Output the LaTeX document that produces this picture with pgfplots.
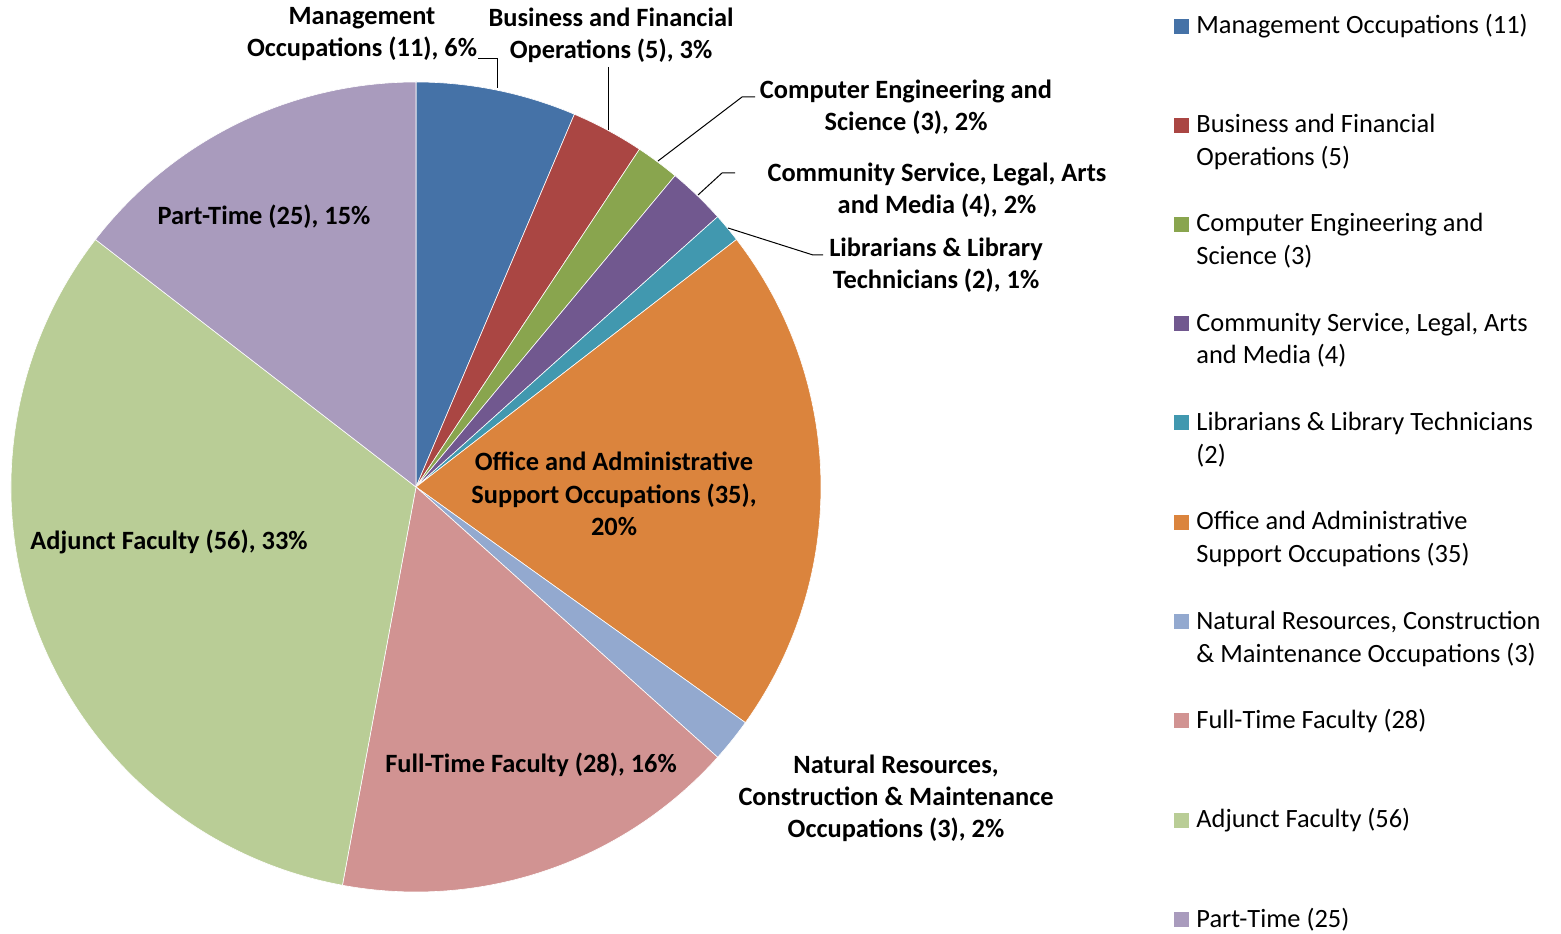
\documentclass[border=0pt]{standalone}
\usepackage{pgfplots}
\pgfplotsset{compat=1.18}
\usepackage{fontspec}
\setmainfont{Carlito}

\definecolor{pie1}{HTML}{4572A7}
\definecolor{pie2}{HTML}{AA4643}
\definecolor{pie3}{HTML}{89A54E}
\definecolor{pie4}{HTML}{71588F}
\definecolor{pie5}{HTML}{4198AF}
\definecolor{pie6}{HTML}{DB843D}
\definecolor{pie7}{HTML}{93A9CF}
\definecolor{pie8}{HTML}{D19392}
\definecolor{pie9}{HTML}{B9CD96}
\definecolor{pie10}{HTML}{A99BBD}

% slice values (counts), clockwise from 12 o'clock
\def\pievals{11,5,3,4,2,35,3,28,56,25}

\def\pietotal{0}
\foreach \v in \pievals {\pgfmathsetmacro\pietmp{\pietotal+\v}\xdef\pietotal{\pietmp}}
\newcount\pieidx
\def\piecum{0}
\foreach \v in \pievals {%
  \global\advance\pieidx by 1
  \pgfmathsetmacro\pieA{90-(\piecum/\pietotal)*360}%
  \pgfmathsetmacro\pietmp{\piecum+\v}\xdef\piecum{\pietmp}%
  \pgfmathsetmacro\pieB{90-(\piecum/\pietotal)*360}%
  \expandafter\xdef\csname pieS\the\pieidx\endcsname{\pieA}%
  \expandafter\xdef\csname pieE\the\pieidx\endcsname{\pieB}%
}

\begin{document}
\begin{tikzpicture}[
  lab/.style={font=\bfseries\fontsize{13.2}{16}\selectfont, anchor=base, inner sep=0pt},
  leg/.style={font=\fontsize{13.2}{16}\selectfont, anchor=base west, inner sep=0pt},
]
\begin{axis}[
  x=0.5pt, y=0.5pt,
  xmin=0, xmax=1561, ymin=0, ymax=933,
  hide axis, clip=false,
]
\coordinate (bl) at (axis cs:0,0);
\coordinate (tr) at (axis cs:1561,933);
\pgfplotsinvokeforeach{1,...,10}{
  \fill[pie#1, draw=white, line width=0.3pt] (axis cs:416,446) -- ++({\csname pieS#1\endcsname}:202.5pt)
    arc[start angle={\csname pieS#1\endcsname}, end angle={\csname pieE#1\endcsname}, radius=202.5pt] -- cycle;
}
% leader lines
\draw[black, line width=0.5pt] (axis cs:478,874) -- (axis cs:497,874) -- (axis cs:497,845);
\draw[black, line width=0.5pt] (axis cs:608,866) -- (axis cs:608,803);
\draw[black, line width=0.5pt] (axis cs:755,836) -- (axis cs:742,836) -- (axis cs:658,772);
\draw[black, line width=0.5pt] (axis cs:735,760) -- (axis cs:722,760) -- (axis cs:698,738);
\draw[black, line width=0.5pt] (axis cs:823,678) -- (axis cs:813,678) -- (axis cs:728,705);
% data labels
\node[lab] at (axis cs:362,908) {Management};
\node[lab] at (axis cs:362,876) {Occupations (11), 6\%};
\node[lab] at (axis cs:611,906) {Business and Financial};
\node[lab] at (axis cs:611,874) {Operations (5), 3\%};
\node[lab] at (axis cs:906,834) {Computer Engineering and};
\node[lab] at (axis cs:906,802) {Science (3), 2\%};
\node[lab] at (axis cs:937,751) {Community Service, Legal, Arts};
\node[lab] at (axis cs:937,719) {and Media (4), 2\%};
\node[lab] at (axis cs:936,676) {Librarians \& Library};
\node[lab] at (axis cs:936,644) {Technicians (2), 1\%};
\node[lab] at (axis cs:614,463) {Office and Administrative};
\node[lab] at (axis cs:614,430) {Support Occupations (35),};
\node[lab] at (axis cs:614,398) {20\%};
\node[lab] at (axis cs:896,160) {Natural Resources,};
\node[lab] at (axis cs:896,128) {Construction \& Maintenance};
\node[lab] at (axis cs:896,96) {Occupations (3), 2\%};
\node[lab] at (axis cs:531,161) {Full-Time Faculty (28), 16\%};
\node[lab] at (axis cs:169,384) {Adjunct Faculty (56), 33\%};
\node[lab] at (axis cs:264,708) {Part-Time (25), 15\%};
% legend
\fill[pie1] (axis cs:1174,899) rectangle (axis cs:1189,914);
\node[leg] at (axis cs:1196,899) {Management Occupations (11)};
\fill[pie2] (axis cs:1174,800) rectangle (axis cs:1189,815);
\node[leg] at (axis cs:1196,800) {Business and Financial};
\node[leg] at (axis cs:1196,767) {Operations (5)};
\fill[pie3] (axis cs:1174,701) rectangle (axis cs:1189,716);
\node[leg] at (axis cs:1196,701) {Computer Engineering and};
\node[leg] at (axis cs:1196,668) {Science (3)};
\fill[pie4] (axis cs:1174,602) rectangle (axis cs:1189,617);
\node[leg] at (axis cs:1196,602) {Community Service, Legal, Arts};
\node[leg] at (axis cs:1196,569) {and Media (4)};
\fill[pie5] (axis cs:1174,502.67) rectangle (axis cs:1189,517.67);
\node[leg] at (axis cs:1196,502.67) {Librarians \& Library Technicians};
\node[leg] at (axis cs:1196,469.67) {(2)};
\fill[pie6] (axis cs:1174,403.33) rectangle (axis cs:1189,418.33);
\node[leg] at (axis cs:1196,403.33) {Office and Administrative};
\node[leg] at (axis cs:1196,370.33) {Support Occupations (35)};
\fill[pie7] (axis cs:1174,304) rectangle (axis cs:1189,319);
\node[leg] at (axis cs:1196,304) {Natural Resources, Construction};
\node[leg] at (axis cs:1196,271) {\& Maintenance Occupations (3)};
\fill[pie8] (axis cs:1174,204.67) rectangle (axis cs:1189,219.67);
\node[leg] at (axis cs:1196,204.67) {Full-Time Faculty (28)};
\fill[pie9] (axis cs:1174,105.33) rectangle (axis cs:1189,120.33);
\node[leg] at (axis cs:1196,105.33) {Adjunct Faculty (56)};
\fill[pie10] (axis cs:1174,6) rectangle (axis cs:1189,21);
\node[leg] at (axis cs:1196,6) {Part-Time (25)};
\end{axis}
\pgfresetboundingbox
\useasboundingbox (bl) rectangle (tr);
\end{tikzpicture}
\end{document}
